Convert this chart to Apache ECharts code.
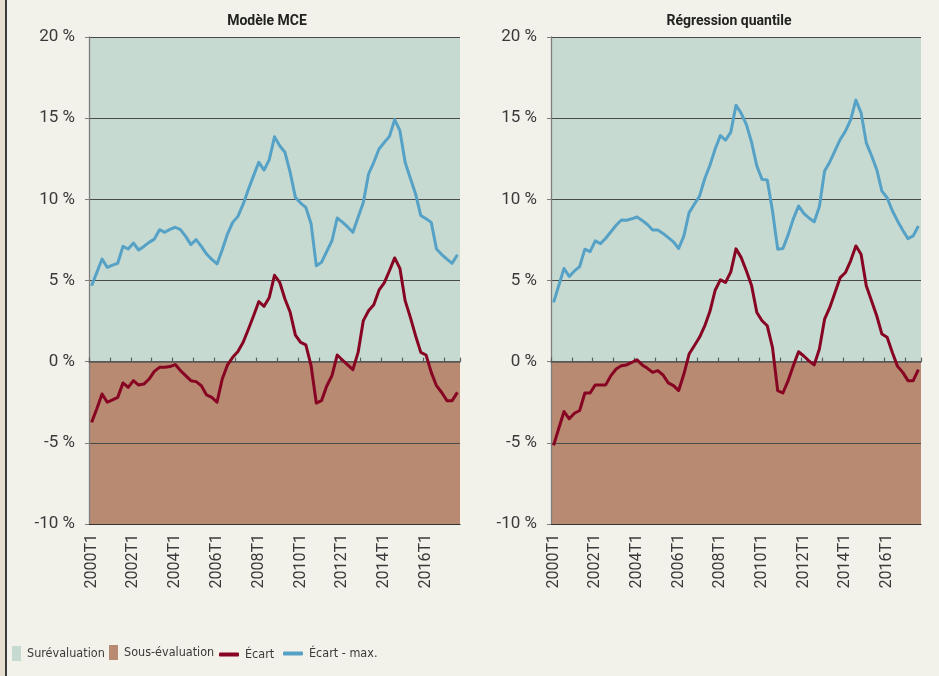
<!DOCTYPE html>
<html>
<head>
<meta charset="utf-8">
<title>Écart de valorisation</title>
<script src="https://cdn.jsdelivr.net/npm/echarts@6/dist/echarts.min.js"></script>
<style>
  html, body { margin: 0; padding: 0; background: #f2f1ea; }
  #frame { position: relative; width: 939px; height: 676px; background: #f2f1ea; overflow: hidden; }
  #edge { position: absolute; left: 0; top: 0; width: 5px; height: 676px; background: #e6dece; border-right: 2px solid #3b3b3b; }
  #chart { position: absolute; left: 0; top: 0; width: 939px; height: 676px; }
</style>
</head>
<body>
<div id="frame"><div id="edge"></div><div id="chart"></div></div>
<script>
// quarters 2000T1 .. 2017T3
var quarters = [];
for (var y = 2000; y <= 2017; y++) {
  for (var q = 1; q <= 4; q++) quarters.push(y + 'T' + q);
}
quarters = quarters.slice(0, 71);

// Modèle MCE
var mceEcart = [-3.74, -2.9, -1.99, -2.5, -2.35, -2.2, -1.31, -1.58, -1.17, -1.44,
  -1.38, -1.07, -0.6, -0.35, -0.35, -0.3, -0.18, -0.55, -0.86, -1.17,
  -1.23, -1.48, -2.05, -2.2, -2.5, -1.07, -0.2, 0.27, 0.62, 1.2,
  2.0, 2.83, 3.7, 3.41, 3.96, 5.32, 4.89, 3.86, 3.04, 1.64,
  1.19, 1.03, -0.25, -2.55, -2.4, -1.5, -0.86, 0.41, 0.1, -0.2,
  -0.49, 0.57, 2.53, 3.14, 3.5, 4.4, 4.85, 5.6, 6.39, 5.75,
  3.76, 2.73, 1.6, 0.57, 0.41, -0.66, -1.48, -1.9, -2.4, -2.4,
  -1.89];
var mceEcartMax = [4.68, 5.5, 6.32, 5.81, 5.95, 6.06, 7.1, 6.94, 7.31, 6.88,
  7.1, 7.35, 7.55, 8.13, 7.97, 8.15, 8.28, 8.13, 7.72, 7.21,
  7.52, 7.1, 6.63, 6.3, 6.02, 6.9, 7.86, 8.58, 8.95, 9.7,
  10.6, 11.46, 12.28, 11.8, 12.45, 13.85, 13.3, 12.9, 11.66, 10.12,
  9.77, 9.5, 8.5, 5.91, 6.12, 6.8, 7.45, 8.85, 8.6, 8.3,
  7.97, 8.9, 9.8, 11.56, 12.28, 13.1, 13.5, 13.88, 14.91, 14.23,
  12.28, 11.3, 10.33, 9.0, 8.8, 8.58, 6.94, 6.6, 6.32, 6.06,
  6.59];

// Régression quantile
var qrEcart = [-5.16, -4.1, -3.07, -3.52, -3.18, -3.01, -1.93, -1.93, -1.43, -1.43,
  -1.43, -0.86, -0.45, -0.25, -0.2, -0.05, 0.12, -0.2, -0.41, -0.66,
  -0.55, -0.82, -1.31, -1.48, -1.78, -0.76, 0.47, 0.98, 1.5, 2.2,
  3.1, 4.4, 5.04, 4.88, 5.53, 6.95, 6.41, 5.59, 4.67, 3.03,
  2.52, 2.21, 0.88, -1.78, -1.93, -1.17, -0.25, 0.61, 0.35, 0.05,
  -0.2, 0.78, 2.62, 3.34, 4.26, 5.18, 5.49, 6.21, 7.13, 6.62,
  4.67, 3.75, 2.83, 1.7, 1.5, 0.57, -0.29, -0.66, -1.17, -1.17,
  -0.49];
var qrEcartMax = [3.65, 4.7, 5.74, 5.25, 5.59, 5.86, 6.93, 6.78, 7.44, 7.27,
  7.6, 8.0, 8.4, 8.73, 8.71, 8.8, 8.91, 8.7, 8.45, 8.11,
  8.11, 7.9, 7.64, 7.38, 6.97, 7.75, 9.18, 9.7, 10.2, 11.27,
  12.1, 13.1, 13.93, 13.65, 14.14, 15.8, 15.3, 14.6, 13.5, 12.05,
  11.23, 11.19, 9.3, 6.93, 6.97, 7.81, 8.8, 9.59, 9.14, 8.85,
  8.61, 9.55, 11.74, 12.3, 13.0, 13.69, 14.2, 14.9, 16.11, 15.33,
  13.48, 12.7, 11.84, 10.51, 10.1, 9.3, 8.67, 8.1, 7.58, 7.75,
  8.36];

var panelTitles = ['Modèle MCE', 'Régression quantile'];
var yRange = [-10, 20];
var overRange = [0, 20];
var underRange = [-10, 0];

const TEAL = '#c6dad2';
const BROWN = '#b78a71';
const RED = '#870423';
const BLUE = '#56a1c6';
const TXT = '#3a3a3a';
const NARROW = "'Liberation Sans Narrow', 'DejaVu Sans Condensed', sans-serif";

var chart = echarts.init(document.getElementById('chart'));

var grids = [
  { left: 89, right: 479, top: 37, bottom: 152 },
  { left: 551, right: 18, top: 37, bottom: 152 }
];

var xAxes = [];
var yAxes = [];
var series = [];
var panels = [[mceEcart, mceEcartMax], [qrEcart, qrEcartMax]];

for (var g = 0; g < 2; g++) {
  // bottom axis: labels
  xAxes.push({
    type: 'category', gridIndex: g, data: quarters, boundaryGap: true,
    position: 'bottom', z: 2,
    axisLine: { onZero: false, lineStyle: { color: '#333', width: 1.2 } },
    axisTick: { show: false },
    axisLabel: { interval: 7, rotate: 90, margin: 10, fontFamily: 'Roboto', fontSize: 16, color: TXT },
    splitLine: { show: false }
  });
  // zero line with its ticks
  xAxes.push({
    type: 'category', gridIndex: g, data: quarters, boundaryGap: true,
    position: 'bottom', z: 2,
    axisLine: { onZero: true, lineStyle: { color: '#5a5a5a', width: 1.5 } },
    axisTick: { show: true, inside: true, interval: 3, length: 4, lineStyle: { color: '#5a5a5a', width: 1.2 } },
    axisLabel: { show: false },
    splitLine: { show: false }
  });
  yAxes.push({
    type: 'value', gridIndex: g, min: yRange[0], max: yRange[1], interval: 5, z: 2,
    axisLine: { show: true, lineStyle: { color: '#7d7d7d', width: 1.3 } },
    axisTick: { show: true, length: 4, lineStyle: { color: '#7d7d7d' } },
    splitLine: { lineStyle: { color: '#4a4a4a', width: 1.2 } },
    axisLabel: { formatter: '{value} %', fontFamily: 'Roboto', fontSize: 17, color: TXT, margin: 14 }
  });

  series.push({
    name: 'Surévaluation', type: 'line', data: [], xAxisIndex: 2 * g, yAxisIndex: g,
    itemStyle: { color: TEAL }, lineStyle: { color: TEAL },
    markArea: { silent: true, itemStyle: { color: TEAL }, data: [[{ yAxis: overRange[0] }, { yAxis: overRange[1] }]] }
  });
  series.push({
    name: 'Sous-évaluation', type: 'line', data: [], xAxisIndex: 2 * g, yAxisIndex: g,
    itemStyle: { color: BROWN }, lineStyle: { color: BROWN },
    markArea: { silent: true, itemStyle: { color: BROWN }, data: [[{ yAxis: underRange[0] }, { yAxis: underRange[1] }]] }
  });
  series.push({
    name: 'Écart', type: 'line', data: panels[g][0], xAxisIndex: 2 * g, yAxisIndex: g,
    symbol: 'none', z: 4, itemStyle: { color: RED },
    lineStyle: { color: RED, width: 3, join: 'round' }
  });
  series.push({
    name: 'Écart - max.', type: 'line', data: panels[g][1], xAxisIndex: 2 * g, yAxisIndex: g,
    symbol: 'none', z: 4, itemStyle: { color: BLUE },
    lineStyle: { color: BLUE, width: 3, join: 'round' }
  });
}

var legendText = { fontFamily: NARROW, fontSize: 12.5, color: TXT, padding: [0, 0, 0, 1] };

var option = {
  backgroundColor: 'transparent',
  animation: false,
  grid: grids,
  xAxis: xAxes,
  yAxis: yAxes,
  series: series,
  legend: [
    { data: ['Surévaluation'], left: 12, top: 646, padding: 0, icon: 'rect', itemWidth: 9, itemHeight: 15, selectedMode: false, textStyle: legendText },
    { data: ['Sous-évaluation'], left: 109, top: 645, padding: 0, icon: 'rect', itemWidth: 9, itemHeight: 15, selectedMode: false, textStyle: legendText },
    { data: ['Écart'], left: 219, top: 648, padding: 0, icon: 'roundRect', itemWidth: 20, itemHeight: 4, selectedMode: false, textStyle: legendText },
    { data: ['Écart - max.'], left: 283, top: 647, padding: 0, icon: 'roundRect', itemWidth: 20, itemHeight: 4, selectedMode: false, textStyle: legendText }
  ],
  graphic: [
    { type: 'text', x: 267, y: 21, style: { text: panelTitles[0], align: 'center', verticalAlign: 'middle', font: 'bold 14px Roboto', fill: '#222' } },
    { type: 'text', x: 729, y: 21, style: { text: panelTitles[1], align: 'center', verticalAlign: 'middle', font: 'bold 14px Roboto', fill: '#222' } }
  ]
};

chart.setOption(option);
</script>
</body>
</html>
